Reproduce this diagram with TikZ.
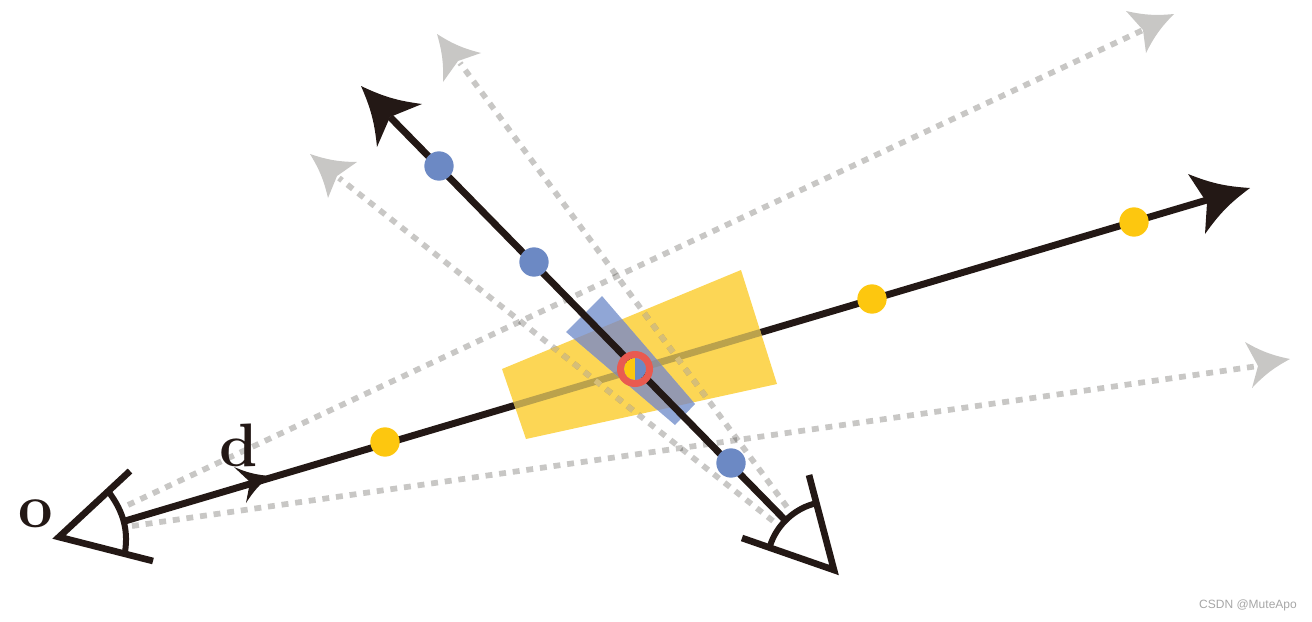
\documentclass[tikz,border=0pt]{standalone}
\usepackage{fontspec}
\newfontfamily\wmfont{Liberation Sans}
\definecolor{ink}{HTML}{231815}
\definecolor{sun}{HTML}{FDC70F}
\definecolor{sunpatch}{HTML}{FCD655}
\definecolor{skypatch}{HTML}{90A6D6}
\definecolor{mixpatch}{HTML}{9499B0}
\definecolor{mixray}{HTML}{8F8F96}
\definecolor{olive}{HTML}{BBA24C}
\definecolor{sky}{HTML}{6C89C4}
\definecolor{ringred}{HTML}{E95A50}
\definecolor{ghost}{HTML}{C8C7C5}
\definecolor{ghostsun}{HTML}{D6BE78}
\newcommand{\tipshape}[5]{\fill[#1] (#2) to[bend left=9] (#3) -- (#5) -- (#4) to[bend left=9] (#2) -- cycle;}
\newcommand{\yellowquad}{(502,369) -- (741,270) -- (777,384) -- (526,439) -- cycle}
\newcommand{\bluequad}{(566,332) -- (602,296) -- (695,404) -- (675,425) -- cycle}
\tikzset{
  rayline/.style={draw=ink,line width=5.2pt},
  ghostline/.style={draw=ghost,line width=4.3pt,dash pattern=on 5.2pt off 5.1pt},
  eyeline/.style={draw=ink,line width=5pt,miter limit=10},
  eyearc/.style={draw=ink,line width=4.5pt},
  bluedot/.style={circle,fill=sky,inner sep=0pt,minimum size=22pt},
  yellowdot/.style={circle,fill=sun,inner sep=0pt,minimum size=22pt},
  biglabel/.style={inner sep=0pt,text=ink,font=\fontsize{46}{46}\selectfont\bfseries},
}
\begin{document}
\begin{tikzpicture}[x=.75pt,y=-.75pt]
\useasboundingbox (0,0) rectangle (1312,621);
% coordinates
\coordinate (eyeA) at (125,521);
\coordinate (eyeAu) at (128,505);
\coordinate (eyeAd) at (132,526);
\coordinate (eyeB) at (785,520);
\coordinate (eyeBl) at (773,521);
\coordinate (eyeBr) at (787,507);
\coordinate (rayAend) at (1207,200);
\coordinate (rayBend) at (390,117);
\coordinate (ghA) at (1143,30);
\coordinate (ghB) at (1258,366);
\coordinate (ghC) at (339,178);
\coordinate (ghD) at (460,63);
% first ray, seen through the yellow patch
\draw[rayline] (eyeA) -- (rayAend);
\fill[sunpatch] \yellowquad;
\begin{scope}
\clip \yellowquad;
\draw[rayline,draw=olive] (eyeA) -- (rayAend);
\end{scope}
% ghost rays
\begin{scope}[blend mode=multiply]
\draw[ghostline] (eyeAu) -- (ghA);
\draw[ghostline] (eyeAd) -- (ghB);
\draw[ghostline] (eyeBl) -- (ghC);
\draw[ghostline] (eyeBr) -- (ghD);
\end{scope}
\begin{scope}
\clip \yellowquad;
\draw[ghostline,draw=ghostsun] (eyeAu) -- (ghA);
\draw[ghostline,draw=ghostsun] (eyeBl) -- (ghC);
\draw[ghostline,draw=ghostsun] (eyeBr) -- (ghD);
\end{scope}
% blue patch
\fill[skypatch] \bluequad;
\begin{scope}
\clip \yellowquad;
\fill[mixpatch] \bluequad;
\clip \bluequad;
\draw[rayline,draw=mixray] (eyeA) -- (rayAend);
\end{scope}
% second ray
\draw[rayline] (eyeB) -- (rayBend);
% arrow tips
\tipshape{ghost}{1174,14}{1126,11}{1146,53}{1143,30}
\tipshape{ghost}{1290,359}{1245,342}{1252,388}{1258,366}
\tipshape{ghost}{437,34}{443,82}{481,53}{458,61}
\tipshape{ghost}{310,154}{328,198}{357,162}{337,176}
\tipshape{ink}{361,86}{377,147}{422,104}{390,117}
\tipshape{ink}{1250,188}{1188,174}{1205,234}{1207,203}
\tipshape{ink}{270,476}{234,467}{246,503}{250,482}
% eyes
\draw[eyeline] (130,471) -- (59,537) -- (153,561);
\draw[eyearc] (108,491) .. controls (121,508) and (129,527) .. (125,552);
\draw[eyeline] (809,475) -- (834,570) -- (742,538);
\draw[eyearc] (770,546) .. controls (776,526) and (794,508) .. (817,503);
% samples
\node[bluedot] (b1) at (439,166) {};
\node[bluedot] (b2) at (534,262) {};
\node[bluedot] (b3) at (731,463) {};
\node[yellowdot] (y1) at (385,442) {};
\node[yellowdot] (y2) at (872,299) {};
\node[yellowdot] (y3) at (1134,222) {};
% hit point
\fill[sun] (635,380) arc[start angle=90,end angle=270,radius=11] -- cycle;
\fill[sky] (635,380) arc[start angle=90,end angle=-90,radius=11] -- cycle;
\node[circle,draw=ringred,line width=5.2pt,inner sep=0pt,minimum size=21.8pt] (hit) at (635,369) {};
% labels
\node[biglabel] (olabel) at (36,514) {o};
\node[biglabel] (dlabel) at (239,445) {d};
\node[inner sep=0pt,text=black!35,font=\fontsize{9}{9}\wmfont] (wm) at (1248,605) {CSDN @MuteApo};
\end{tikzpicture}
\end{document}
